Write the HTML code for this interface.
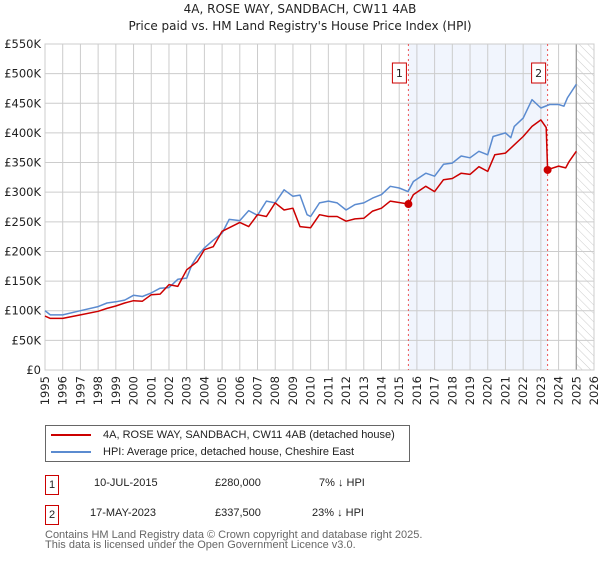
<!DOCTYPE html>
<html><head><meta charset="utf-8"><style>
body{margin:0;background:#fff;font-family:"Liberation Sans","DejaVu Sans",sans-serif;}
svg text{font-family:"DejaVu Sans","Liberation Sans",sans-serif;}
.tbl span{white-space:nowrap}
</style></head><body>
<svg id="c" width="600" height="560" xmlns="http://www.w3.org/2000/svg">
<defs><pattern id="hatch" width="6" height="6" patternUnits="userSpaceOnUse" patternTransform="rotate(-45)"><line x1="0" y1="0" x2="0" y2="6" stroke="#ccc" stroke-width="1"/></pattern></defs>
<text x="300" y="13" text-anchor="middle" font-size="12" fill="#222">4A, ROSE WAY, SANDBACH, CW11 4AB</text>
<text x="300" y="30" text-anchor="middle" font-size="12" fill="#222">Price paid vs. HM Land Registry's House Price Index (HPI)</text>
<g id="grid"></g><g id="marks"></g>
</svg>
<script>
const yTicks=[0,50,100,150,200,250,300,350,400,450,500,550];
const yTickLabels=["£0","£50K","£100K","£150K","£200K","£250K","£300K","£350K","£400K","£450K","£500K","£550K"];
const xYears=[1995,1996,1997,1998,1999,2000,2001,2002,2003,2004,2005,2006,2007,2008,2009,2010,2011,2012,2013,2014,2015,2016,2017,2018,2019,2020,2021,2022,2023,2024,2025,2026];
const hpiT=[1995,1995.3,1996,1997,1998,1998.5,1999,1999.5,2000,2000.5,2001,2001.5,2002,2002.5,2003,2003.3,2003.6,2004,2004.5,2005,2005.4,2006,2006.5,2007,2007.5,2008,2008.5,2009,2009.4,2009.8,2010,2010.5,2011,2011.5,2012,2012.5,2013,2013.5,2014,2014.5,2015,2015.5,2015.8,2016.5,2017,2017.5,2018,2018.5,2019,2019.5,2020,2020.3,2021,2021.3,2021.5,2022,2022.5,2023,2023.5,2024,2024.3,2024.5,2025];
const hpiV=[100,93,93,100,107,113,115,118,126,124,130,138,139,153,155,178,192,206,219,231,254,252,269,261,285,282,304,293,295,262,259,282,285,282,270,279,282,290,296,310,307,301,318,332,327,347,349,361,358,369,363,394,400,392,411,425,456,442,448,448,445,459,482];
const priceT=[1995,1995.3,1996,1997,1998,1998.5,1999,1999.5,2000,2000.5,2001,2001.5,2002,2002.5,2003,2003.6,2004,2004.5,2005,2006,2006.5,2007,2007.5,2008,2008.5,2009,2009.4,2010,2010.5,2011,2011.5,2012,2012.5,2013,2013.5,2014,2014.5,2015.52,2015.8,2016.5,2017,2017.5,2018,2018.5,2019,2019.5,2020,2020.4,2021,2021.5,2022,2022.5,2023,2023.3,2023.38,2024,2024.4,2024.6,2025];
const priceV=[91,87,87,93,99,104,108,113,117,116,127,128,144,141,169,183,203,208,234,249,242,262,259,282,270,273,242,240,262,259,259,251,255,256,268,273,285,280,296,310,301,321,323,332,330,343,335,363,366,380,394,411,422,409,338,344,341,352,369];
const saleT=[2015.52,2023.38];
const saleV=[280,337.5];
const saleLabels=["1","2"];
const L=45,R=594,T=44,B=370;
const X=t=>L+(t-1995)/(2026-1995)*(R-L);
const Y=v=>B-v/550*(B-T);
const NS="http://www.w3.org/2000/svg";
function mk(tag,attrs,parent,txt){const e=document.createElementNS(NS,tag);for(const k in attrs)e.setAttribute(k,attrs[k]);if(txt!==undefined)e.textContent=txt;parent.appendChild(e);return e;}
const g=document.getElementById('grid'),m=document.getElementById('marks');
let e=mk('rect',{x:X(saleT[0]),y:T,width:X(saleT[1])-X(saleT[0]),height:B-T,fill:'#eef3fc',opacity:0.8},g);


e=mk('rect',{x:X(2025),y:T,width:R-X(2025),height:B-T,fill:'url(#hatch)'},g);


yTicks.forEach((v,i)=>{mk('line',{x1:L,x2:R,y1:Y(v),y2:Y(v),stroke:'#ccc','stroke-width':1},g);
 e=mk('text',{x:L-4,y:Y(v)+4,'text-anchor':'end','font-size':11.5,fill:'#222'},g,yTickLabels[i]);
 
 });
xYears.forEach(yr=>{mk('line',{x1:X(yr),x2:X(yr),y1:T,y2:B,stroke:'#ccc','stroke-width':1},g);
 e=mk('text',{transform:`translate(${X(yr)+4},${B+6}) rotate(-90)`,'text-anchor':'end','font-size':11.5,fill:'#222'},g,String(yr));
 
 });
mk('line',{x1:X(2025),x2:X(2025),y1:T,y2:B,stroke:'#999','stroke-width':1.2},g);
mk('rect',{x:L,y:T,width:R-L,height:B-T,fill:'none',stroke:'#ccc'},g);
saleT.forEach((t,i)=>{mk('line',{x1:X(t),x2:X(t),y1:T,y2:B,stroke:'#e55','stroke-width':1,'stroke-dasharray':'2,3'},m);
 e=mk('g',{},m);
 
 
 mk('rect',{x:X(t)-16,y:63,width:14,height:20,fill:'#fff',stroke:'#c00'},e);
 mk('text',{x:X(t)-9,y:77,'text-anchor':'middle','font-size':11,fill:'#222'},e,saleLabels[i]);});
function path(ts,vs,color,name){const d=ts.map((t,i)=>(i?'L':'M')+X(t).toFixed(1)+','+Y(vs[i]).toFixed(1)).join('');
 const p=mk('path',{d:d,fill:'none',stroke:color,'stroke-width':1.5,'stroke-linejoin':'round'},m);
 
 }
path(hpiT,hpiV,'#5b8bd0','hpi-line');
path(priceT,priceV,'#cc0000','price-paid-line');
saleT.forEach((t,i)=>{const c=mk('circle',{cx:X(t),cy:Y(saleV[i]),r:4,fill:'#cc0000'},m);
 
 });
</script>
<div style="position:absolute;left:45px;top:425px;width:363px;height:35px;border:1px solid #666;font-size:11px;color:#222;">
 <div style="position:absolute;left:5px;top:3px;white-space:nowrap"><span style="display:inline-block;width:40px;height:2px;background:#cc0000;vertical-align:middle;margin-right:12px"></span>4A, ROSE WAY, SANDBACH, CW11 4AB (detached house)</div>
 <div style="position:absolute;left:5px;top:20px;white-space:nowrap"><span style="display:inline-block;width:40px;height:2px;background:#5b8bd0;vertical-align:middle;margin-right:12px"></span>HPI: Average price, detached house, Cheshire East</div>
</div>
<div class="tbl" style="position:absolute;left:0;top:0;width:600px;font-size:11px;color:#222">
 <div>
  <span style="position:absolute;left:45px;top:475px;width:12px;height:18px;border:1px solid #c00;text-align:center;line-height:18px">1</span>
  <span style="position:absolute;left:94px;top:477px">10-JUL-2015</span>
  <span style="position:absolute;left:215px;top:477px">£280,000</span>
  <span style="position:absolute;left:319px;top:477px">7% ↓ HPI</span>
 </div>
 <div>
  <span style="position:absolute;left:45px;top:505px;width:12px;height:18px;border:1px solid #c00;text-align:center;line-height:18px">2</span>
  <span style="position:absolute;left:90px;top:507px">17-MAY-2023</span>
  <span style="position:absolute;left:215px;top:507px">£337,500</span>
  <span style="position:absolute;left:312px;top:507px">23% ↓ HPI</span>
 </div>
</div>
<div style="position:absolute;left:45px;top:530px;font-size:11px;color:#666;line-height:10px;white-space:nowrap">Contains HM Land Registry data © Crown copyright and database right 2025.<br>This data is licensed under the Open Government Licence v3.0.</div>
</body></html>
